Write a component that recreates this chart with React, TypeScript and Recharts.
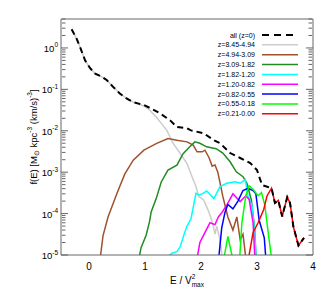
import { LineChart, Line, XAxis, YAxis } from "recharts";

const FONT = "'Liberation Sans', Arial, sans-serif";
const FRAME = "#666";

// energy bins (E / Vmax^2) and f(E) for each redshift slice
const ALL_E = [-0.31, -0.22, -0.16, -0.07, 0.02, 0.11, 0.23, 0.32, 0.43, 0.55, 0.67, 0.79, 0.98, 1.09, 1.27, 1.45, 1.57, 1.75, 1.82, 2.05, 2.23, 2.34, 2.52, 2.7, 2.88, 3.0, 3.09, 3.17, 3.26, 3.32, 3.38, 3.45, 3.54, 3.59, 3.65, 3.74, 3.84];
const ALL_F = [2.82, 1.66, 1.05, 0.5, 0.324, 0.24, 0.2, 0.166, 0.115, 0.0794, 0.0603, 0.049, 0.0417, 0.0355, 0.0263, 0.0178, 0.0123, 0.0115, 0.0102, 0.0087, 0.0059, 0.005, 0.0029, 0.0022, 0.00166, 0.00112, 4.9e-4, 4.5e-4, 4.1e-4, 1.8e-4, 2.1e-4, 8.5e-5, 2.5e-4, 1.8e-4, 4.8e-5, 1.7e-5, 2.6e-5];

const Z1_E = [-0.31, -0.22, -0.16, -0.07, 0.02, 0.11, 0.23, 0.32, 0.43, 0.55, 0.67, 0.79, 0.98, 1.09, 1.2, 1.32, 1.39, 1.5, 1.63, 1.75, 1.84, 1.91, 1.96, 2.05, 2.14, 2.2, 2.25, 2.28, 2.34, 2.4];
const Z1_F = [2.82, 1.66, 1.05, 0.5, 0.324, 0.24, 0.2, 0.166, 0.115, 0.0794, 0.0603, 0.049, 0.0398, 0.0309, 0.0214, 0.0135, 0.0102, 0.005, 0.00282, 0.00162, 7.8e-4, 4.5e-4, 2.6e-4, 2.1e-4, 1.1e-4, 6.3e-5, 3.2e-5, 5.0e-5, 2.3e-5, 5e-6];

const Z2_E = [0.18, 0.25, 0.34, 0.5, 0.64, 0.79, 0.98, 1.2, 1.41, 1.57, 1.75, 1.86, 1.93, 2.02, 2.07, 2.14, 2.2, 2.25, 2.3, 2.39, 2.48, 2.57, 2.64, 2.7, 2.75, 2.82];
const Z2_F = [5e-6, 2.9e-5, 8.3e-5, 3.1e-4, 9.1e-4, 0.00195, 0.0034, 0.0049, 0.0065, 0.0059, 0.0054, 0.0045, 0.0031, 0.0031, 0.0034, 0.0023, 0.0014, 0.0015, 0.001, 2.6e-4, 8.3e-5, 4.0e-5, 8.3e-5, 2.3e-5, 3.2e-5, 5e-6];

const Z3_E = [0.86, 0.93, 1.02, 1.08, 1.11, 1.2, 1.29, 1.41, 1.57, 1.68, 1.8, 1.89, 1.98, 2.1, 2.27, 2.39, 2.52, 2.63, 2.75, 2.82, 2.9, 2.96, 2.99];
const Z3_F = [5e-6, 1.5e-5, 3.0e-5, 6.3e-5, 1.1e-4, 2.3e-4, 5.8e-4, 0.00112, 0.00148, 0.0028, 0.0041, 0.0054, 0.005, 0.0041, 0.0037, 0.0029, 0.00178, 0.00102, 7.8e-4, 5.4e-4, 2.1e-4, 4.0e-5, 5e-6];

const Z4_E = [1.41, 1.48, 1.57, 1.63, 1.7, 1.75, 1.82, 1.91, 1.96, 2.02, 2.1, 2.14, 2.23, 2.34, 2.46, 2.61, 2.7, 2.79, 2.84, 2.91, 2.96, 2.99];
const Z4_F = [9e-6, 1.1e-5, 1.2e-5, 1.6e-5, 3.2e-5, 5.0e-5, 7.4e-5, 3.1e-4, 2.8e-4, 3.0e-4, 3.5e-4, 3.1e-4, 2.3e-4, 4.5e-4, 5.4e-4, 5.9e-4, 5.4e-4, 6.6e-4, 2.6e-4, 1.6e-4, 3.5e-5, 5e-6];

const Z5_E = [1.9, 1.98, 2.04, 2.16, 2.25, 2.31, 2.37, 2.46, 2.57, 2.7, 2.8, 2.86, 2.93, 2.97];
const Z5_F = [5e-6, 2.0e-5, 2.9e-5, 6.0e-5, 5.4e-5, 8.3e-5, 1.05e-4, 1.6e-4, 3.0e-4, 1.95e-4, 2.7e-4, 2.2e-4, 6.0e-5, 5e-6];

const Z6_E = [2.3, 2.37, 2.43, 2.48, 2.57, 2.66, 2.75, 2.84, 2.93, 2.98, 3.04, 3.13, 3.17];
const Z6_F = [5e-6, 4.5e-5, 1.1e-4, 1.66e-4, 1.3e-4, 2.0e-4, 3.6e-4, 4.1e-4, 3.6e-4, 3.0e-4, 6.8e-5, 2.6e-5, 5e-6];

const Z7_E = [2.38, 2.48, 2.6, 2.68, 2.73, 2.8, 2.86, 2.93, 3.02, 3.08, 3.14, 3.2, 3.28];
const Z7_F = [5e-6, 2.8e-5, 5e-6, 5e-6, 6.0e-5, 2.7e-4, 4.7e-4, 3.8e-4, 2.7e-4, 3.2e-4, 1.6e-4, 3.5e-5, 5e-6];

const Z8_E = [2.82, 2.93, 3.02, 3.12, 3.18, 3.26, 3.32, 3.38, 3.45, 3.54, 3.59, 3.65, 3.74, 3.84];
const Z8_F = [5e-6, 3.5e-5, 6.0e-5, 1.26e-4, 2.7e-4, 4.1e-4, 1.8e-4, 2.1e-4, 8.5e-5, 2.5e-4, 1.8e-4, 4.8e-5, 1.7e-5, 2.6e-5];

const LEGEND_NAMES = ["all (z=0)", "z=8.45-4.94", "z=4.94-3.09", "z=3.09-1.82", "z=1.82-1.20", "z=1.20-0.82", "z=0.82-0.55", "z=0.55-0.18", "z=0.21-0.00"];
const LEGEND_COLORS = ["#000000", "#cccccc", "#a0522d", "#228b22", "#00ffff", "#ff00ff", "#0000ff", "#00ff00", "#ff0000"];

const X_TICKS = [0, 1, 2, 3, 4];
const X_TICK_LABELS = ["0", "1", "2", "3", "4"];
const X_MINOR = Array.from({ length: 46 }, (_, i) => Math.round((-0.5 + i * 0.1) * 10) / 10);
const Y_TICKS = [1, 0.1, 0.01, 1e-3, 1e-4, 1e-5];
const Y_TICK_EXP = ["0", "-1", "-2", "-3", "-4", "-5"];
const Y_MINOR = [1e-5, 1e-4, 1e-3, 1e-2, 1e-1, 1].flatMap((d) =>
  [2, 3, 4, 5, 6, 7, 8, 9].map((m) => m * d)
).filter((v) => v <= 5);

const pts = (e: number[], f: number[]) => e.map((x, i) => ({ e: x, f: f[i] }));

// drawing order: gray first, black dashed on top
const SERIES = [
  { key: "z1", data: pts(Z1_E, Z1_F), color: LEGEND_COLORS[1], width: 1.5 },
  { key: "z2", data: pts(Z2_E, Z2_F), color: LEGEND_COLORS[2], width: 1.5 },
  { key: "z3", data: pts(Z3_E, Z3_F), color: LEGEND_COLORS[3], width: 1.5 },
  { key: "z4", data: pts(Z4_E, Z4_F), color: LEGEND_COLORS[4], width: 1.5 },
  { key: "z5", data: pts(Z5_E, Z5_F), color: LEGEND_COLORS[5], width: 1.5 },
  { key: "z6", data: pts(Z6_E, Z6_F), color: LEGEND_COLORS[6], width: 1.5 },
  { key: "z7", data: pts(Z7_E, Z7_F), color: LEGEND_COLORS[7], width: 1.5 },
  { key: "z8", data: pts(Z8_E, Z8_F), color: LEGEND_COLORS[8], width: 1.5 },
  { key: "all", data: pts(ALL_E, ALL_F), color: LEGEND_COLORS[0], width: 2, dash: "6 4" },
];

const Empty = () => <g />;

function XTick({ x, y, payload }: any) {
  const i = X_TICKS.indexOf(payload.value);
  return (
    <text x={x} y={y} dy={7} textAnchor="middle" fontSize={10} fontFamily={FONT} fill="#000">
      {X_TICK_LABELS[i]}
    </text>
  );
}

function YTick({ x, y, payload }: any) {
  const i = Y_TICKS.indexOf(payload.value);
  return (
    <text x={x} y={y} dy={4} textAnchor="end" fontSize={9.5} fontFamily={FONT} fill="#000">
      <tspan>10</tspan>
      <tspan dy={-4.5} fontSize={6.5}>{Y_TICK_EXP[i]}</tspan>
    </text>
  );
}

function XTitle({ viewBox }: any) {
  const cx = viewBox.x + viewBox.width / 2;
  return (
    <text x={cx} y={viewBox.y + 29} textAnchor="middle" fontSize={10} fontFamily={FONT} fill="#000">
      <tspan>E / V</tspan>
      <tspan dy={-5} fontSize={6.5}>2</tspan>
      <tspan dx={-3.6} dy={8} fontSize={6.5}>max</tspan>
    </text>
  );
}

function YTitle({ viewBox }: any) {
  const cx = 33;
  const cy = viewBox.y + viewBox.height / 2;
  return (
    <text x={cx} y={cy} textAnchor="middle" dominantBaseline="central" fontSize={9.5} fontFamily={FONT} fill="#000" transform={`rotate(-90 ${cx} ${cy})`}>
      <tspan>f(E) [M</tspan>
      <tspan dy={2.5} fontSize={6.5}>⊙</tspan>
      <tspan dy={-2.5}> kpc</tspan>
      <tspan dy={-4} fontSize={6.5}>-3</tspan>
      <tspan dy={4}> (km/s)</tspan>
      <tspan dy={-4} fontSize={6.5}>-3</tspan>
      <tspan dy={4}>]</tspan>
    </text>
  );
}

function LegendBox() {
  return (
    <svg width={332} height={130} style={{ position: "absolute", left: 0, top: 0, pointerEvents: "none" }}>
      {LEGEND_NAMES.map((name, i) => {
        const y = 35 + i * 9.85;
        return (
          <g key={name}>
            <text x={255} y={y} dy={2.5} textAnchor="end" fontSize={7} fontFamily={FONT} fill="#000">
              {name}
            </text>
            <line x1={262} x2={298} y1={y} y2={y} stroke={LEGEND_COLORS[i]} strokeWidth={i === 0 ? 2 : 1.5} strokeDasharray={i === 0 ? "7 5" : undefined} />
          </g>
        );
      })}
    </svg>
  );
}

export default function App() {
  const xDom: [number, number] = [-0.5, 4];
  const yDom: [number, number] = [1e-5, 5];
  return (
    <div style={{ position: "absolute", left: 0, top: 0, width: 332, height: 295, background: "#fff" }}>
      <LineChart width={332} height={295} margin={{ top: 19, right: 19, left: 16, bottom: 10 }}>
        <XAxis xAxisId="x" type="number" dataKey="e" domain={xDom} allowDataOverflow ticks={X_TICKS} tick={XTick} tickLine={false} axisLine={false} tickSize={0} tickMargin={8} height={30} label={{ content: XTitle }} />
        <XAxis xAxisId="xMajB" type="number" domain={xDom} allowDataOverflow ticks={X_TICKS} mirror height={1} tickSize={7} tick={Empty} stroke={FRAME} interval={0} />
        <XAxis xAxisId="xMinB" type="number" domain={xDom} allowDataOverflow ticks={X_MINOR} mirror height={1} tickSize={3.5} tick={Empty} axisLine={false} stroke={FRAME} interval={0} />
        <XAxis xAxisId="xMajT" orientation="top" type="number" domain={xDom} allowDataOverflow ticks={X_TICKS} mirror height={1} tickSize={7} tick={Empty} stroke={FRAME} interval={0} />
        <XAxis xAxisId="xMinT" orientation="top" type="number" domain={xDom} allowDataOverflow ticks={X_MINOR} mirror height={1} tickSize={3.5} tick={Empty} axisLine={false} stroke={FRAME} interval={0} />
        <YAxis yAxisId="y" scale="log" type="number" dataKey="f" domain={yDom} allowDataOverflow ticks={Y_TICKS} tick={YTick} tickLine={false} axisLine={false} tickSize={0} tickMargin={3} width={45} interval={0} label={{ content: YTitle }} />
        <YAxis yAxisId="yMajL" scale="log" type="number" domain={yDom} allowDataOverflow ticks={Y_TICKS} mirror width={1} tickSize={7} tick={Empty} stroke={FRAME} interval={0} />
        <YAxis yAxisId="yMinL" scale="log" type="number" domain={yDom} allowDataOverflow ticks={Y_MINOR} mirror width={1} tickSize={3.5} tick={Empty} axisLine={false} stroke={FRAME} interval={0} />
        <YAxis yAxisId="yMajR" orientation="right" scale="log" type="number" domain={yDom} allowDataOverflow ticks={Y_TICKS} mirror width={1} tickSize={7} tick={Empty} stroke={FRAME} interval={0} />
        <YAxis yAxisId="yMinR" orientation="right" scale="log" type="number" domain={yDom} allowDataOverflow ticks={Y_MINOR} mirror width={1} tickSize={3.5} tick={Empty} axisLine={false} stroke={FRAME} interval={0} />
        {SERIES.map((s) => (
          <Line
            key={s.key}
            xAxisId="x"
            yAxisId="y"
            data={s.data}
            dataKey="f"
            type="linear"
            stroke={s.color}
            strokeWidth={s.width}
            strokeDasharray={s.dash}
            dot={false}
            activeDot={false}
            isAnimationActive={false}
          />
        ))}
      </LineChart>
      <LegendBox />
    </div>
  );
}
